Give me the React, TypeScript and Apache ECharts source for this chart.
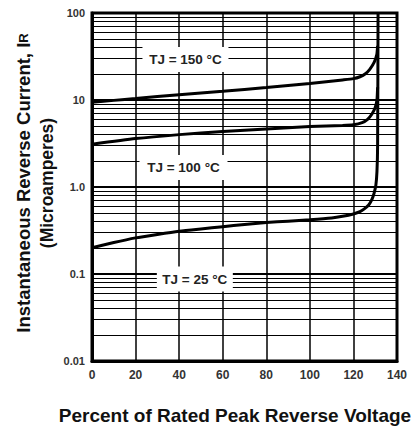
import React, { useEffect, useRef } from "react";
import * as echarts from "echarts";

const xTicks = [0, 20, 40, 60, 80, 100, 120, 140];
const yDecades = [0.01, 0.1, 1, 10, 100];
const yTickLabels: Record<string, string> = {
  "0.01": "0.01",
  "0.1": "0.1",
  "1": "1.0",
  "10": "10",
  "100": "100",
};
const minorMultipliers = [2, 3, 4, 5, 6, 7, 8, 9];

const tj150: [number, number][] = [
  [0, 9.4], [10, 9.9], [20, 10.4], [40, 11.5], [60, 12.6], [80, 13.9], [100, 15.5],
  [115, 17], [120, 17.6], [123, 18.5], [125.5, 20], [127.5, 22.5], [129.5, 27],
  [130.7, 33], [131.1, 42],
];
const tj100: [number, number][] = [
  [0, 3.1], [20, 3.6], [40, 4.0], [60, 4.35], [80, 4.65], [100, 4.95], [115, 5.1],
  [120, 5.2], [124, 5.5], [126.5, 6.0], [128.5, 6.9], [130, 8.2], [130.8, 10], [131.1, 14],
];
const tj25: [number, number][] = [
  [0, 0.2], [10, 0.23], [20, 0.26], [30, 0.285], [40, 0.31], [50, 0.33], [60, 0.35],
  [70, 0.37], [80, 0.39], [90, 0.405], [100, 0.42], [110, 0.44], [115, 0.46], [120, 0.49],
  [123, 0.52], [125, 0.56], [127, 0.62], [128.5, 0.72], [129.5, 0.85], [130.3, 1.05],
  [130.8, 1.5], [131.1, 3], [131.3, 100],
];
const curveLabels: [number, number, string][] = [
  [42.9, 29.2, "TJ = 150 °C"],
  [42, 1.67, "TJ = 100 °C"],
  [47.2, 0.0874, "TJ = 25 °C"],
];
const labelBoxSizes: [number, number][] = [
  [86, 25],
  [88, 25],
  [76, 25],
];

const yAxisTitle = "Instantaneous Reverse Current, I";
const yAxisTitleSub = "R";
const yAxisTitle2 = "(Microamperes)";
const xAxisTitle = "Percent of Rated Peak Reverse Voltage";

export default function App() {
  const ref = useRef<HTMLDivElement>(null);
  useEffect(() => {
    if (!ref.current) return;
    const chart = echarts.init(ref.current, undefined, { renderer: "svg" });
    const minorValues: number[] = [];
    yDecades.slice(0, -1).forEach((d) => minorMultipliers.forEach((m) => minorValues.push(d * m)));
    const curveStyle = { color: "#000", width: 3 };
    const font = "Arial, 'Liberation Sans', sans-serif";
    chart.setOption({
      animation: false,
      backgroundColor: "#fff",
      grid: { left: 92, right: 20, top: 13, bottom: 67, show: true, borderColor: "#000", borderWidth: 3, backgroundColor: "transparent" },
      xAxis: {
        type: "value",
        min: xTicks[0],
        max: xTicks[xTicks.length - 1],
        interval: 20,
        axisLine: { show: true, lineStyle: { color: "#000", width: 3 } },
        axisTick: { show: false },
        axisLabel: { margin: 8, color: "#333", fontSize: 12, fontWeight: "bold", fontFamily: font },
        splitLine: { show: true, lineStyle: { color: "#000", width: 1.5 } },
      },
      yAxis: {
        type: "log",
        logBase: 10,
        min: yDecades[0],
        max: yDecades[yDecades.length - 1],
        axisLine: { show: true, lineStyle: { color: "#000", width: 3 } },
        axisTick: { show: false },
        axisLabel: {
          margin: 7,
          color: "#333",
          fontSize: 11,
          fontWeight: "bold",
          fontFamily: font,
          formatter: (v: number) => yTickLabels[String(+v.toPrecision(3))] ?? "",
        },
        splitLine: { show: true, lineStyle: { color: "#000", width: 2 } },
      },
      series: [
        {
          type: "line",
          data: [[0, 0.01]],
          symbol: "none",
          lineStyle: { opacity: 0 },
          silent: true,
          z: 1,
          markLine: {
            silent: true,
            z: 2,
            symbol: ["none", "none"],
            label: { show: false },
            lineStyle: { color: "#000", width: 1.2, type: "solid" },
            data: minorValues.map((v) => ({ yAxis: v })),
          },
        },
        { type: "line", data: tj150, symbol: "none", smooth: 0.2, lineStyle: curveStyle, z: 5 },
        { type: "line", data: tj100, symbol: "none", smooth: 0.2, lineStyle: curveStyle, z: 5 },
        { type: "line", data: tj25, symbol: "none", smooth: 0.2, lineStyle: curveStyle, z: 5 },
        {
          type: "scatter",
          data: curveLabels.map((d, i) => ({ value: [d[0], d[1]], name: d[2], symbolSize: labelBoxSizes[i] })),
          symbol: "rect",
          itemStyle: { color: "#fff", opacity: 1 },
          silent: true,
          z: 10,
          label: {
            show: true,
            position: "inside",
            formatter: (p: any) => p.name,
            color: "#222",
            fontSize: 13.5,
            fontWeight: "bold",
            fontFamily: font,
          },
        },
      ],
      graphic: [
        {
          type: "text",
          x: 23,
          y: 183,
          rotation: Math.PI / 2,
          style: {
            text: `{a|${yAxisTitle}}{b|${yAxisTitleSub}}`,
            align: "center",
            verticalAlign: "middle",
            rich: {
              a: { fontSize: 18.5, fontWeight: "bold", fontFamily: font, fill: "#111" },
              b: { fontSize: 13, fontWeight: "bold", fontFamily: font, fill: "#111" },
            },
          },
        },
        {
          type: "text",
          x: 47,
          y: 183,
          rotation: Math.PI / 2,
          style: {
            text: yAxisTitle2,
            align: "center",
            verticalAlign: "middle",
            fontSize: 17.5,
            fontWeight: "bold",
            fontFamily: font,
            fill: "#111",
          },
        },
        {
          type: "text",
          x: 235,
          y: 415,
          style: {
            text: xAxisTitle,
            align: "center",
            verticalAlign: "middle",
            fontSize: 19,
            fontWeight: "bold",
            fontFamily: font,
            fill: "#111",
          },
        },
      ],
    });
    return () => chart.dispose();
  }, []);
  return <div ref={ref} style={{ width: 417, height: 428, position: "absolute", left: 0, top: 0 }} />;
}
